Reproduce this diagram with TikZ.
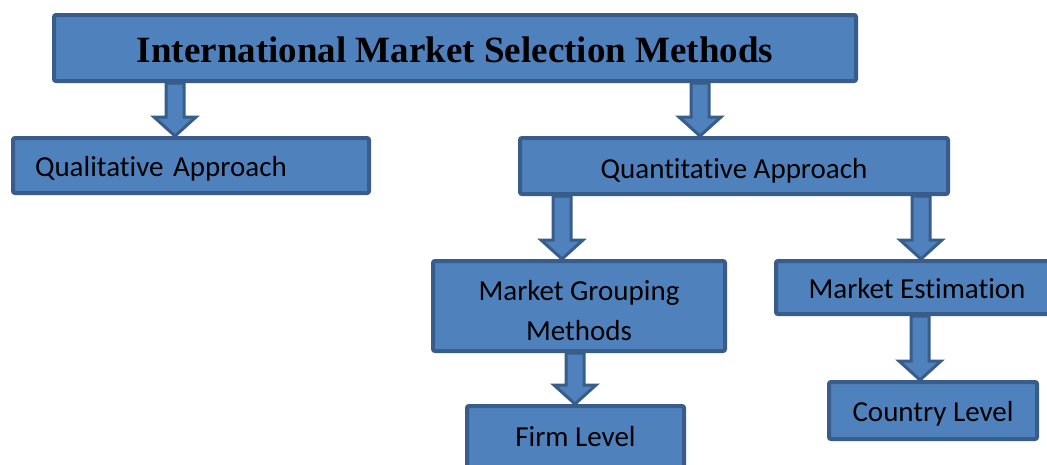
\documentclass[tikz,border=0pt]{standalone}
\usepackage{fontspec}
\setmainfont{Carlito}[Ligatures={NoCommon,NoContextual}]
\newfontfamily\titlefont{Liberation Serif}
\usetikzlibrary{calc}

\definecolor{boxfill}{HTML}{4F81BD}
\definecolor{boxline}{HTML}{385D8A}

\tikzset{
  box/.style={draw=boxline,fill=boxfill,line width=4pt,rounded corners=2pt,
    inner sep=0pt,font=\fontsize{29}{40}\selectfont,align=center,
    text height=22pt,text depth=0pt},
  blockarrow/.style={draw=boxline,fill=boxfill,line width=3pt,line join=miter}
}

% fat arrow from the bottom of #1 down to the top of #2, shaft at x = #3
\newcommand\blockarrow[3]{%
  \coordinate (bx) at (#3,0);
  \draw [blockarrow] ($(bx |- #1.south)+(-9,0)$) -- ($(bx |- #2.north)+(-9,-19)$)
    -- ($(bx |- #2.north)+(-21,-19)$) -- (bx |- #2.north)
    -- ($(bx |- #2.north)+(21,-19)$) -- ($(bx |- #2.north)+(9,-19)$)
    -- ($(bx |- #1.south)+(9,0)$) -- cycle;}

\begin{document}
\begin{tikzpicture}[x=1pt,y=-1pt]
\useasboundingbox (0,0) rectangle (1047,464);

\node (title) at (455, 48) [box,minimum width=802,minimum height=66,text height=28pt,
  font=\titlefont\bfseries\fontsize{37}{40}\selectfont] {International Market Selection Methods};
\node (qual) at (191, 165.5) [box,minimum height=55,text width=312,inner xsep=22,align=left] {Qualitative Approach};
\node (quant) at (734, 166) [box,minimum width=428,minimum height=56,text height=24pt] {Quantitative Approach};
\node (group) at (579, 306) [box,minimum width=292,minimum height=90,text height=68pt] {Market Grouping\\Methods};
\node (estim) at (917, 287.5) [box,minimum width=282,minimum height=53] {Market Estimation};
\node (firm) at (575.5, 437) [box,minimum width=217,minimum height=62,text height=18pt] {Firm Level};
\node (country) at (933, 410.5) [box,minimum width=208,minimum height=57] {Country Level};

\blockarrow{title}{qual}{175}
\blockarrow{title}{quant}{700}
\blockarrow{quant}{group}{562}
\blockarrow{quant}{estim}{921}
\blockarrow{group}{firm}{575}
\blockarrow{estim}{country}{920}
\end{tikzpicture}
\end{document}
